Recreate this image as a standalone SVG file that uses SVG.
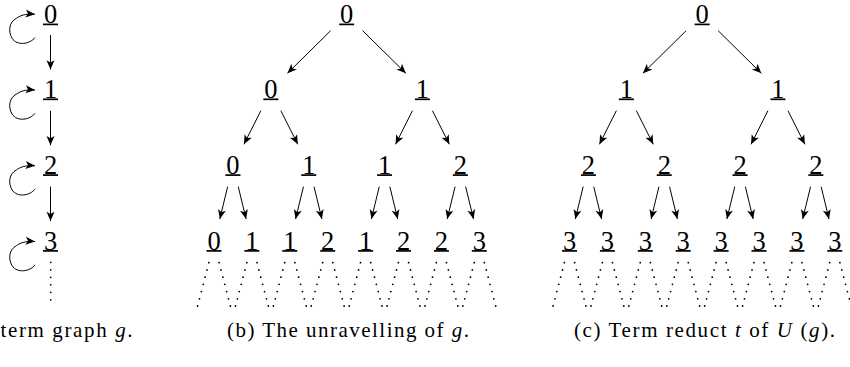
<svg xmlns="http://www.w3.org/2000/svg" width="850" height="367" viewBox="0 0 850 367">
<defs>
<marker id="ah" markerUnits="userSpaceOnUse" markerWidth="12" markerHeight="10" viewBox="-8 -4 9 8" refX="0" refY="0" orient="auto">
<path d="M0,0 L-7.5,-3.2 L-5.6,0 L-7.5,3.2 Z" fill="#000"/>
</marker>
</defs>
<style>
text{font-family:"Liberation Serif","Times New Roman","DejaVu Serif",serif}
.lbl{font-size:26.5px;text-anchor:middle;fill:#000}
.ul{stroke:#000;stroke-width:1.7}
.e{stroke:#000;stroke-width:1;fill:none;marker-end:url(#ah)}
.d{stroke:#000;stroke-width:1.8;stroke-linecap:round;stroke-dasharray:0 7.458;fill:none}
.dv{stroke:#000;stroke-width:1.8;stroke-linecap:round;stroke-dasharray:0 7.5;fill:none}
.cap{font-size:21px;fill:#000}
</style>
<rect width="850" height="367" fill="#fff"/>

<!-- (a) term graph -->
<g id="a0"><text class="lbl" font-family="Liberation Serif, serif" x="50.5" y="23.2">0</text><line class="ul" x1="43" y1="24.4" x2="58" y2="24.4"/></g>
<g id="a1"><text class="lbl" font-family="Liberation Serif, serif" x="50.5" y="97.9">1</text><line class="ul" x1="43" y1="99.3" x2="58" y2="99.3"/></g>
<g id="a2"><text class="lbl" font-family="Liberation Serif, serif" x="50.5" y="173.7">2</text><line class="ul" x1="43" y1="175.1" x2="58" y2="175.1"/></g>
<g id="a3"><text class="lbl" font-family="Liberation Serif, serif" x="50.5" y="249.5">3</text><line class="ul" x1="43" y1="250.9" x2="58" y2="250.9"/></g>

<!-- (b) unravelling -->
<g id="b0"><text class="lbl" font-family="Liberation Serif, serif" x="346.65" y="23.2">0</text><line class="ul" x1="339.15" y1="24.4" x2="354.15" y2="24.4"/></g>
<g id="b10"><text class="lbl" font-family="Liberation Serif, serif" x="270.85" y="97.9">0</text><line class="ul" x1="263.35" y1="99.3" x2="278.35" y2="99.3"/></g>
<g id="b11"><text class="lbl" font-family="Liberation Serif, serif" x="422.45" y="97.9">1</text><line class="ul" x1="414.95" y1="99.3" x2="429.95" y2="99.3"/></g>
<g id="b20"><text class="lbl" font-family="Liberation Serif, serif" x="232.95" y="173.7">0</text><line class="ul" x1="225.45" y1="175.1" x2="240.45" y2="175.1"/></g>
<g id="b21"><text class="lbl" font-family="Liberation Serif, serif" x="308.75" y="173.7">1</text><line class="ul" x1="301.25" y1="175.1" x2="316.25" y2="175.1"/></g>
<g id="b22"><text class="lbl" font-family="Liberation Serif, serif" x="384.55" y="173.7">1</text><line class="ul" x1="377.05" y1="175.1" x2="392.05" y2="175.1"/></g>
<g id="b23"><text class="lbl" font-family="Liberation Serif, serif" x="460.35" y="173.7">2</text><line class="ul" x1="452.85" y1="175.1" x2="467.85" y2="175.1"/></g>
<g id="b30"><text class="lbl" font-family="Liberation Serif, serif" x="214" y="249.5">0</text><line class="ul" x1="206.5" y1="250.9" x2="221.5" y2="250.9"/></g>
<g id="b31"><text class="lbl" font-family="Liberation Serif, serif" x="251.9" y="249.5">1</text><line class="ul" x1="244.4" y1="250.9" x2="259.4" y2="250.9"/></g>
<g id="b32"><text class="lbl" font-family="Liberation Serif, serif" x="289.8" y="249.5">1</text><line class="ul" x1="282.3" y1="250.9" x2="297.3" y2="250.9"/></g>
<g id="b33"><text class="lbl" font-family="Liberation Serif, serif" x="327.7" y="249.5">2</text><line class="ul" x1="320.2" y1="250.9" x2="335.2" y2="250.9"/></g>
<g id="b34"><text class="lbl" font-family="Liberation Serif, serif" x="365.6" y="249.5">1</text><line class="ul" x1="358.1" y1="250.9" x2="373.1" y2="250.9"/></g>
<g id="b35"><text class="lbl" font-family="Liberation Serif, serif" x="403.5" y="249.5">2</text><line class="ul" x1="396" y1="250.9" x2="411" y2="250.9"/></g>
<g id="b36"><text class="lbl" font-family="Liberation Serif, serif" x="441.4" y="249.5">2</text><line class="ul" x1="433.9" y1="250.9" x2="448.9" y2="250.9"/></g>
<g id="b37"><text class="lbl" font-family="Liberation Serif, serif" x="479.3" y="249.5">3</text><line class="ul" x1="471.8" y1="250.9" x2="486.8" y2="250.9"/></g>

<!-- (c) term reduct -->
<g id="c0"><text class="lbl" font-family="Liberation Serif, serif" x="702.15" y="23.2">0</text><line class="ul" x1="694.65" y1="24.4" x2="709.65" y2="24.4"/></g>
<g id="c10"><text class="lbl" font-family="Liberation Serif, serif" x="626.35" y="97.9">1</text><line class="ul" x1="618.85" y1="99.3" x2="633.85" y2="99.3"/></g>
<g id="c11"><text class="lbl" font-family="Liberation Serif, serif" x="777.95" y="97.9">1</text><line class="ul" x1="770.45" y1="99.3" x2="785.45" y2="99.3"/></g>
<g id="c20"><text class="lbl" font-family="Liberation Serif, serif" x="588.45" y="173.7">2</text><line class="ul" x1="580.95" y1="175.1" x2="595.95" y2="175.1"/></g>
<g id="c21"><text class="lbl" font-family="Liberation Serif, serif" x="664.25" y="173.7">2</text><line class="ul" x1="656.75" y1="175.1" x2="671.75" y2="175.1"/></g>
<g id="c22"><text class="lbl" font-family="Liberation Serif, serif" x="740.05" y="173.7">2</text><line class="ul" x1="732.55" y1="175.1" x2="747.55" y2="175.1"/></g>
<g id="c23"><text class="lbl" font-family="Liberation Serif, serif" x="815.85" y="173.7">2</text><line class="ul" x1="808.35" y1="175.1" x2="823.35" y2="175.1"/></g>
<g id="c30"><text class="lbl" font-family="Liberation Serif, serif" x="569.5" y="249.5">3</text><line class="ul" x1="562" y1="250.9" x2="577" y2="250.9"/></g>
<g id="c31"><text class="lbl" font-family="Liberation Serif, serif" x="607.4" y="249.5">3</text><line class="ul" x1="599.9" y1="250.9" x2="614.9" y2="250.9"/></g>
<g id="c32"><text class="lbl" font-family="Liberation Serif, serif" x="645.3" y="249.5">3</text><line class="ul" x1="637.8" y1="250.9" x2="652.8" y2="250.9"/></g>
<g id="c33"><text class="lbl" font-family="Liberation Serif, serif" x="683.2" y="249.5">3</text><line class="ul" x1="675.7" y1="250.9" x2="690.7" y2="250.9"/></g>
<g id="c34"><text class="lbl" font-family="Liberation Serif, serif" x="721.1" y="249.5">3</text><line class="ul" x1="713.6" y1="250.9" x2="728.6" y2="250.9"/></g>
<g id="c35"><text class="lbl" font-family="Liberation Serif, serif" x="759" y="249.5">3</text><line class="ul" x1="751.5" y1="250.9" x2="766.5" y2="250.9"/></g>
<g id="c36"><text class="lbl" font-family="Liberation Serif, serif" x="796.9" y="249.5">3</text><line class="ul" x1="789.4" y1="250.9" x2="804.4" y2="250.9"/></g>
<g id="c37"><text class="lbl" font-family="Liberation Serif, serif" x="834.8" y="249.5">3</text><line class="ul" x1="827.3" y1="250.9" x2="842.3" y2="250.9"/></g>

<g id="connectors">
<!-- (a) -->
<line class="e" x1="50.5" y1="35" x2="50.5" y2="69.5"/>
<line class="e" x1="50.5" y1="110.8" x2="50.5" y2="145.3"/>
<line class="e" x1="50.5" y1="186.6" x2="50.5" y2="221.1"/>
<path class="e" d="M35,37.5 C30,44.2 17,46.2 12,38.2 C8,31.2 9,22.2 16.5,18.2 C22,14.2 29,13.7 35,14.2"/>
<path class="e" d="M35,113.3 C30,120 17,122 12,114 C8,107 9,98 16.5,94 C22,90 29,89.5 35,90"/>
<path class="e" d="M35,189.1 C30,195.8 17,197.8 12,189.8 C8,182.8 9,173.8 16.5,169.8 C22,165.8 29,165.3 35,165.8"/>
<path class="e" d="M35,264.9 C30,271.6 17,273.6 12,265.6 C8,258.6 9,249.6 16.5,245.6 C22,241.6 29,241.1 35,241.6"/>
<line class="dv" x1="50.7" y1="262.3" x2="50.7" y2="307.3"/>

<!-- (b) -->
<line class="e" x1="330.65" y1="30.7" x2="287.45" y2="73.3"/>
<line class="e" x1="362.65" y1="30.7" x2="405.85" y2="73.3"/>
<line class="e" x1="260.85" y1="110.7" x2="243.95" y2="144.3"/>
<line class="e" x1="280.85" y1="110.7" x2="297.75" y2="144.3"/>
<line class="e" x1="412.45" y1="110.7" x2="395.55" y2="144.3"/>
<line class="e" x1="432.45" y1="110.7" x2="449.35" y2="144.3"/>
<line class="e" x1="227.65" y1="186.7" x2="219.8" y2="219"/>
<line class="e" x1="238.25" y1="186.7" x2="246.1" y2="219"/>
<line class="e" x1="303.45" y1="186.7" x2="295.6" y2="219"/>
<line class="e" x1="314.05" y1="186.7" x2="321.9" y2="219"/>
<line class="e" x1="379.25" y1="186.7" x2="371.4" y2="219"/>
<line class="e" x1="389.85" y1="186.7" x2="397.7" y2="219"/>
<line class="e" x1="455.05" y1="186.7" x2="447.2" y2="219"/>
<line class="e" x1="465.65" y1="186.7" x2="473.5" y2="219"/>
<line class="d" x1="208.9" y1="262.7" x2="197.6" y2="306"/><line class="d" x1="219.1" y1="262.7" x2="230.4" y2="306"/>
<line class="d" x1="246.8" y1="262.7" x2="235.5" y2="306"/><line class="d" x1="257" y1="262.7" x2="268.3" y2="306"/>
<line class="d" x1="284.7" y1="262.7" x2="273.4" y2="306"/><line class="d" x1="294.9" y1="262.7" x2="306.2" y2="306"/>
<line class="d" x1="322.6" y1="262.7" x2="311.3" y2="306"/><line class="d" x1="332.8" y1="262.7" x2="344.1" y2="306"/>
<line class="d" x1="360.5" y1="262.7" x2="349.2" y2="306"/><line class="d" x1="370.7" y1="262.7" x2="382" y2="306"/>
<line class="d" x1="398.4" y1="262.7" x2="387.1" y2="306"/><line class="d" x1="408.6" y1="262.7" x2="419.9" y2="306"/>
<line class="d" x1="436.3" y1="262.7" x2="425" y2="306"/><line class="d" x1="446.5" y1="262.7" x2="457.8" y2="306"/>
<line class="d" x1="474.2" y1="262.7" x2="462.9" y2="306"/><line class="d" x1="484.4" y1="262.7" x2="495.7" y2="306"/>

<!-- (c) -->
<line class="e" x1="686.15" y1="30.7" x2="642.95" y2="73.3"/>
<line class="e" x1="718.15" y1="30.7" x2="761.35" y2="73.3"/>
<line class="e" x1="616.35" y1="110.7" x2="599.45" y2="144.3"/>
<line class="e" x1="636.35" y1="110.7" x2="653.25" y2="144.3"/>
<line class="e" x1="767.95" y1="110.7" x2="751.05" y2="144.3"/>
<line class="e" x1="787.95" y1="110.7" x2="804.85" y2="144.3"/>
<line class="e" x1="583.15" y1="186.7" x2="575.3" y2="219"/>
<line class="e" x1="593.75" y1="186.7" x2="601.6" y2="219"/>
<line class="e" x1="658.95" y1="186.7" x2="651.1" y2="219"/>
<line class="e" x1="669.55" y1="186.7" x2="677.4" y2="219"/>
<line class="e" x1="734.75" y1="186.7" x2="726.9" y2="219"/>
<line class="e" x1="745.35" y1="186.7" x2="753.2" y2="219"/>
<line class="e" x1="810.55" y1="186.7" x2="802.7" y2="219"/>
<line class="e" x1="821.15" y1="186.7" x2="829" y2="219"/>
<line class="d" x1="564.4" y1="262.7" x2="553.1" y2="306"/><line class="d" x1="574.6" y1="262.7" x2="585.9" y2="306"/>
<line class="d" x1="602.3" y1="262.7" x2="591" y2="306"/><line class="d" x1="612.5" y1="262.7" x2="623.8" y2="306"/>
<line class="d" x1="640.2" y1="262.7" x2="628.9" y2="306"/><line class="d" x1="650.4" y1="262.7" x2="661.7" y2="306"/>
<line class="d" x1="678.1" y1="262.7" x2="666.8" y2="306"/><line class="d" x1="688.3" y1="262.7" x2="699.6" y2="306"/>
<line class="d" x1="716" y1="262.7" x2="704.7" y2="306"/><line class="d" x1="726.2" y1="262.7" x2="737.5" y2="306"/>
<line class="d" x1="753.9" y1="262.7" x2="742.6" y2="306"/><line class="d" x1="764.1" y1="262.7" x2="775.4" y2="306"/>
<line class="d" x1="791.8" y1="262.7" x2="780.5" y2="306"/><line class="d" x1="802" y1="262.7" x2="813.3" y2="306"/>
<line class="d" x1="829.7" y1="262.7" x2="818.4" y2="306"/><line class="d" x1="839.9" y1="262.7" x2="851.2" y2="306"/>
</g>

<g id="captions">
<text class="cap" font-family="Liberation Serif, serif" x="0.5" y="337" textLength="132" lengthAdjust="spacing">term graph <tspan font-style="italic">g</tspan>.</text>
<text class="cap" font-family="Liberation Serif, serif" x="227" y="337" textLength="242" lengthAdjust="spacing">(b) The unravelling of <tspan font-style="italic">g</tspan>.</text>
<text class="cap" font-family="Liberation Serif, serif" x="574" y="337" textLength="261" lengthAdjust="spacing">(c) Term reduct <tspan font-style="italic">t</tspan> of <tspan font-style="italic">U</tspan> (<tspan font-style="italic">g</tspan>).</text>
</g>
</svg>
